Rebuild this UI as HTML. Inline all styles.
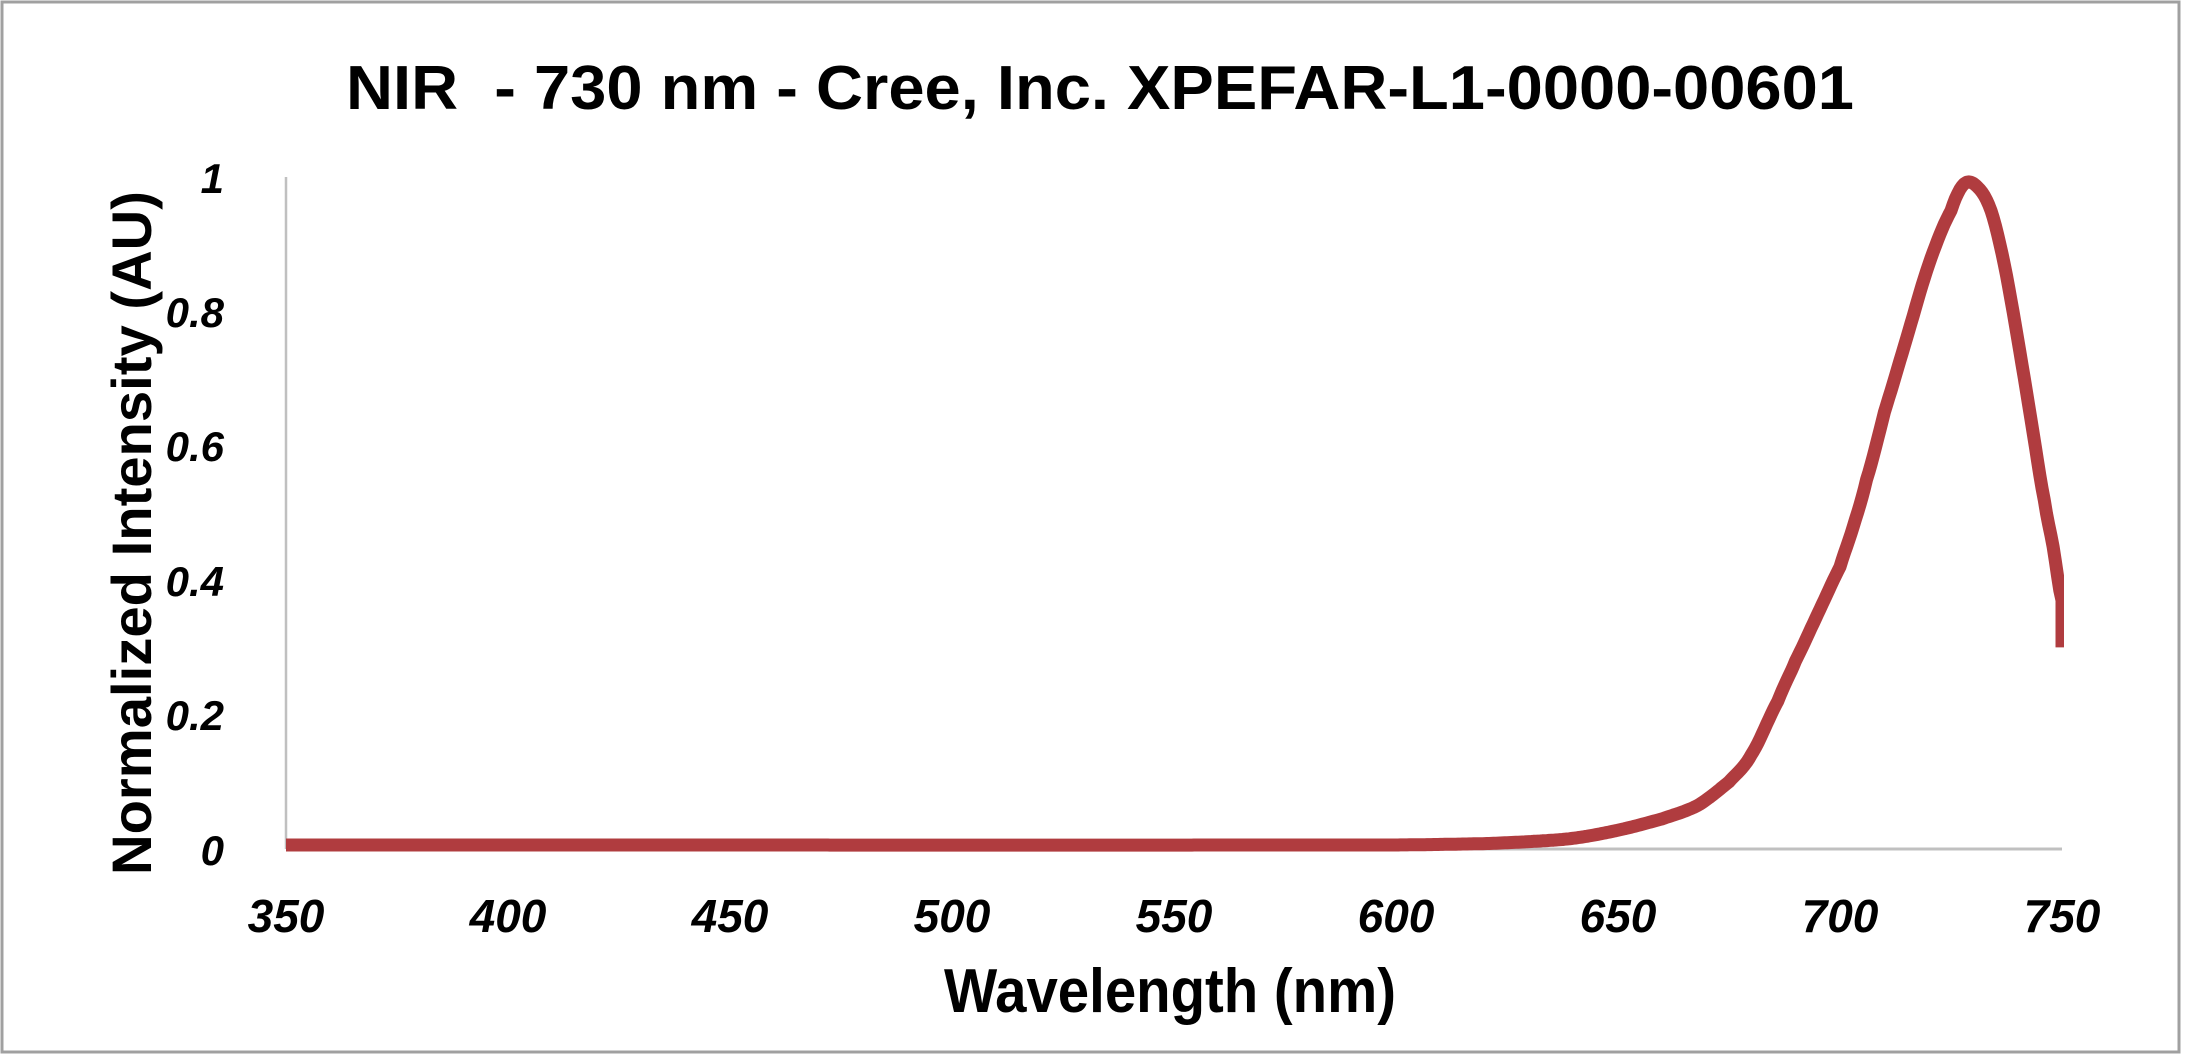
<!DOCTYPE html>
<html><head><meta charset="utf-8"><style>
html,body{margin:0;padding:0;background:#fff;}
svg{display:block;}
</style></head><body>
<svg id="s" width="2186" height="1058" xmlns="http://www.w3.org/2000/svg">
<rect x="2" y="2" width="2177" height="1050" fill="#fff" stroke="#a0a0a0" stroke-width="3"/>
<text x="1100" y="109" text-anchor="middle" font-family="Liberation Sans, sans-serif" font-weight="bold" font-size="62" textLength="1508" lengthAdjust="spacingAndGlyphs" fill="#000">NIR&#160; - 730 nm - Cree, Inc. XPEFAR-L1-0000-00601</text>
<line x1="286" y1="177" x2="286" y2="849" stroke="#c0c0c0" stroke-width="2.5"/>
<line x1="286" y1="849" x2="2062" y2="849" stroke="#c0c0c0" stroke-width="3"/>
<g font-family="Liberation Sans, sans-serif" font-weight="bold" font-style="italic" font-size="42" fill="#000" text-anchor="end">
<text x="224" y="193">1</text>
<text x="224" y="327">0.8</text>
<text x="224" y="461">0.6</text>
<text x="224" y="596">0.4</text>
<text x="224" y="730">0.2</text>
<text x="224" y="865">0</text>
</g>
<g id="xt" font-family="Liberation Sans, sans-serif" font-weight="bold" font-style="italic" font-size="46" fill="#000" text-anchor="middle"></g>
<text x="1170" y="1012" text-anchor="middle" font-family="Liberation Sans, sans-serif" font-weight="bold" font-size="62" textLength="452" lengthAdjust="spacingAndGlyphs" fill="#000">Wavelength (nm)</text>
<text transform="translate(151,533) rotate(-90)" text-anchor="middle" font-family="Liberation Sans, sans-serif" font-weight="bold" font-size="56" textLength="684" lengthAdjust="spacingAndGlyphs" fill="#000">Normalized Intensity (AU)</text>
<clipPath id="c"><rect x="280" y="160" width="1784" height="720"/></clipPath>
<polyline id="p" clip-path="url(#c)" fill="none" stroke="#b03c3f" stroke-width="13" stroke-linejoin="round" points=""/>
</svg>
<script>
var X=function(n){return 286+(n-350)*1776/400;},Y=function(v){return 849-v*672;};
var xt=document.getElementById('xt');
for(var n=350;n<=750;n+=50){var t=document.createElementNS('http://www.w3.org/2000/svg','text');t.setAttribute('x',X(n));t.setAttribute('y',932);t.textContent=n;xt.appendChild(t);}
var d=[[350,0.006],[600,0.006],[620,0.008],[630,0.011],[640,0.016],[650,0.028],[660,0.045],[668,0.065],[675,0.1],[680,0.14],[686,0.22],[690,0.28],[695,0.35],[700,0.42],[703,0.48],[706,0.55],[710,0.65],[715,0.76],[720,0.87],[725,0.95],[728,0.99],[731,0.985],[734,0.95],[737,0.87],[740,0.76],[743,0.64],[746,0.52],[748,0.45],[750,0.37]];
var pts=[];
for(var n=350;n<=750;n+=0.5){var i=0;while(i<d.length-2&&d[i+1][0]<n)i++;var a=d[i],b=d[i+1];var f=(n-a[0])/(b[0]-a[0]);
var p0=d[Math.max(i-1,0)][1],p1=a[1],p2=b[1],p3=d[Math.min(i+2,d.length-1)][1];
var t=f,v=0.5*((2*p1)+(-p0+p2)*t+(2*p0-5*p1+4*p2-p3)*t*t+(-p0+3*p1-3*p2+p3)*t*t*t);
pts.push(X(n).toFixed(1)+','+Y(v).toFixed(1));}
pts.push(X(750).toFixed(1)+','+Y(0.3).toFixed(1));
document.getElementById('p').setAttribute('points',pts.join(' '));
</script>
</body></html>
